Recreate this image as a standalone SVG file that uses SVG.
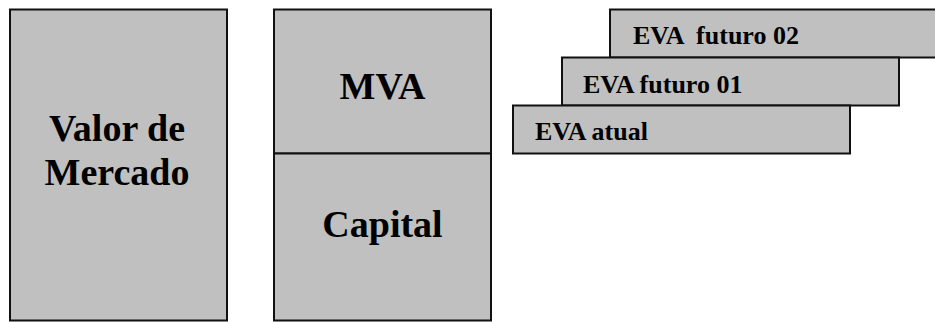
<svg xmlns="http://www.w3.org/2000/svg" width="935" height="322" viewBox="0 0 935 322">
<style>
.b{fill:#c0c0c0;stroke:#111;stroke-width:2}
.t{font-family:"Liberation Serif","Times New Roman",serif;font-weight:bold;fill:#000}
.big{font-size:38px;text-anchor:middle}
.sm{font-size:26px}
</style>
<rect width="935" height="322" fill="#fff"/>
<g id="valor">
<rect class="b" x="10" y="9.5" width="217" height="311"/>
<text class="t big" x="117" y="141">Valor de</text>
<text class="t big" x="117" y="185">Mercado</text>
</g>
<g id="mva">
<rect class="b" x="274" y="9.5" width="217" height="144"/>
<text class="t big" x="382.5" y="99">MVA</text>
</g>
<g id="capital">
<rect class="b" x="274" y="153.5" width="217" height="167"/>
<text class="t big" x="382.5" y="237">Capital</text>
</g>
<g id="eva02">
<rect class="b" x="610" y="9.5" width="340" height="48"/>
<text class="t sm" x="633" y="44" xml:space="preserve">EVA  futuro 02</text>
</g>
<g id="eva01">
<rect class="b" x="562" y="57.5" width="337" height="48"/>
<text class="t sm" x="583" y="92.5">EVA futuro 01</text>
</g>
<g id="evaatual">
<rect class="b" x="513" y="105.5" width="337" height="48"/>
<text class="t sm" x="535" y="140">EVA atual</text>
</g>
<g id="connectors"></g>
</svg>
